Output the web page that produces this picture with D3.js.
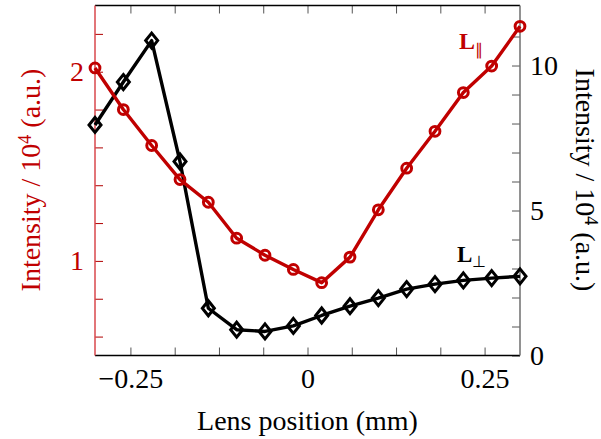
<!DOCTYPE html>
<html>
<head>
<meta charset="utf-8">
<script src="https://cdn.jsdelivr.net/npm/d3@7"></script>
<style>
  html, body { margin: 0; padding: 0; background: #fff; }
  svg { display: block; }
  svg text { font-family: "Liberation Serif", "Times New Roman", Times, serif; }
</style>
</head>
<body>
<svg id="chart" width="601" height="439"></svg>
<script>
// ---- data ----
const positions = [-0.30, -0.26, -0.22, -0.18, -0.14, -0.10, -0.06, -0.02, 0.02, 0.06, 0.10, 0.14, 0.18, 0.22, 0.26, 0.30];
const parallelValues = [2.02, 1.80, 1.61, 1.43, 1.31, 1.12, 1.03, 0.955, 0.885, 1.02, 1.27, 1.49, 1.685, 1.89, 2.03, 2.24];
const perpValues = [7.95, 9.43, 10.86, 6.69, 1.63, 0.89, 0.83, 1.02, 1.38, 1.70, 1.98, 2.29, 2.46, 2.59, 2.67, 2.73];
const xTickValues = [-0.25, -0.1875, -0.125, -0.0625, 0, 0.0625, 0.125, 0.1875, 0.25];
const xTickLabels = {"-0.25": "\u22120.25", "0": "0", "0.25": "0.25"};
const leftTickValues = [0.6, 0.8, 1.0, 1.2, 1.4, 1.6, 1.8, 2.0, 2.2];
const leftTickLabels = {"1": "1", "2": "2"};
const rightTickValues = [0, 1, 2, 3, 4, 5, 6, 7, 8, 9, 10, 11];
const rightTickLabels = {"0": "0", "5": "5", "10": "10"};

const RED = "#c00000";
const RED_AXIS = "#d9474d";
const GRAY_AXIS = "#6e6e6e";

const svg = d3.select("#chart");
const L = 95, R = 520, T = 5.5, B = 355.5;

const x = d3.scaleLinear().domain([-0.3, 0.3]).range([L, R]);
const yL = d3.scaleLinear().domain([0.5, 2.35]).range([B, T]);
const yR = d3.scaleLinear().domain([0, 12.07]).range([B, T]);

const fmt = (map) => (d) => { const k = String(+d.toFixed(4)); return map[k] !== undefined ? map[k] : ""; };

// bottom axis
const gB = svg.append("g").attr("transform", `translate(0,${B})`)
  .call(d3.axisBottom(x).tickValues(xTickValues).tickSize(-8).tickPadding(13).tickFormat(fmt(xTickLabels)));
gB.select(".domain").remove();
gB.selectAll("line").attr("stroke", "#555").attr("stroke-width", 1);
gB.selectAll("text").attr("font-size", 28).attr("fill", "#000").attr("font-family", null);

// top axis (ticks only)
const gT = svg.append("g").attr("transform", `translate(0,${T})`)
  .call(d3.axisTop(x).tickValues(xTickValues).tickSize(-8).tickFormat(""));
gT.select(".domain").remove();
gT.selectAll("line").attr("stroke", "#555").attr("stroke-width", 1);

// left axis
const gLft = svg.append("g").attr("transform", `translate(${L},0)`)
  .call(d3.axisLeft(yL).tickValues(leftTickValues).tickSize(-8).tickPadding(11).tickFormat(fmt(leftTickLabels)));
gLft.select(".domain").remove();
gLft.selectAll("line").attr("stroke", "#b00000").attr("stroke-width", 1);
gLft.selectAll("text").attr("font-size", 28).attr("fill", RED).attr("font-family", null);

// right axis
const gRt = svg.append("g").attr("transform", `translate(${R},0)`)
  .call(d3.axisRight(yR).tickValues(rightTickValues).tickSize(-8).tickPadding(10).tickFormat(fmt(rightTickLabels)));
gRt.select(".domain").remove();
gRt.selectAll("line").attr("stroke", "#555").attr("stroke-width", 1);
gRt.selectAll("text").attr("font-size", 28).attr("fill", "#000").attr("font-family", null);

// frame
svg.append("line").attr("x1", L).attr("x2", R).attr("y1", T).attr("y2", T).attr("stroke", "#000").attr("stroke-width", 1.5);
svg.append("line").attr("x1", L).attr("x2", R).attr("y1", B).attr("y2", B).attr("stroke", "#000").attr("stroke-width", 1.5);
svg.append("line").attr("x1", R).attr("x2", R).attr("y1", T).attr("y2", B).attr("stroke", GRAY_AXIS).attr("stroke-width", 1.5);
svg.append("line").attr("x1", L).attr("x2", L).attr("y1", T).attr("y2", B).attr("stroke", RED_AXIS).attr("stroke-width", 1.5);

// perpendicular series (black, right axis)
const perpData = positions.map((p, i) => ({x: p, y: perpValues[i]}));
svg.append("path").datum(perpData)
  .attr("fill", "none").attr("stroke", "#000").attr("stroke-width", 3.4).attr("stroke-linejoin", "round")
  .attr("d", d3.line().x(d => x(d.x)).y(d => yR(d.y)));
svg.append("g").selectAll("path").data(perpData).join("path")
  .attr("transform", d => `translate(${x(d.x)},${yR(d.y)})`)
  .attr("d", "M0,-7.5L6,0L0,7.5L-6,0Z")
  .attr("fill", "none").attr("stroke", "#000").attr("stroke-width", 3).attr("stroke-linejoin", "miter");

// parallel series (red, left axis)
const parData = positions.map((p, i) => ({x: p, y: parallelValues[i]}));
svg.append("path").datum(parData)
  .attr("fill", "none").attr("stroke", RED).attr("stroke-width", 3.4).attr("stroke-linejoin", "round")
  .attr("d", d3.line().x(d => x(d.x)).y(d => yL(d.y)));
svg.append("g").selectAll("circle").data(parData).join("circle")
  .attr("cx", d => x(d.x)).attr("cy", d => yL(d.y)).attr("r", 4.9)
  .attr("fill", "none").attr("stroke", RED).attr("stroke-width", 3);

// series labels
const lp = svg.append("text").attr("x", 459).attr("y", 49).attr("fill", RED).attr("font-size", 24).attr("font-weight", "bold");
lp.append("tspan").text("L");
lp.append("tspan").attr("dy", 6).attr("font-size", 16).attr("font-weight", "normal").text("\u2225");
const lq = svg.append("text").attr("x", 457).attr("y", 262).attr("fill", "#000").attr("font-size", 23).attr("font-weight", "bold");
lq.append("tspan").text("L");
lq.append("tspan").attr("dy", 5).attr("font-size", 16).attr("font-weight", "normal").text("\u22A5");

// axis titles
const tL = svg.append("text").attr("transform", "translate(40,180) rotate(-90)").attr("text-anchor", "middle")
  .attr("font-size", 28).attr("fill", RED);
tL.append("tspan").text("Intensity / 10");
tL.append("tspan").attr("dy", -9).attr("font-size", 18).text("4");
tL.append("tspan").attr("dy", 9).text(" (a.u.)");

const tR = svg.append("text").attr("transform", "translate(576,180) rotate(90)").attr("text-anchor", "middle")
  .attr("font-size", 28).attr("fill", "#000");
tR.append("tspan").text("Intensity / 10");
tR.append("tspan").attr("dy", -9).attr("font-size", 18).text("4");
tR.append("tspan").attr("dy", 9).text(" (a.u.)");

svg.append("text").attr("x", 307.5).attr("y", 430).attr("text-anchor", "middle")
  .attr("font-size", 28).attr("fill", "#000").text("Lens position (mm)");
</script>
</body>
</html>
